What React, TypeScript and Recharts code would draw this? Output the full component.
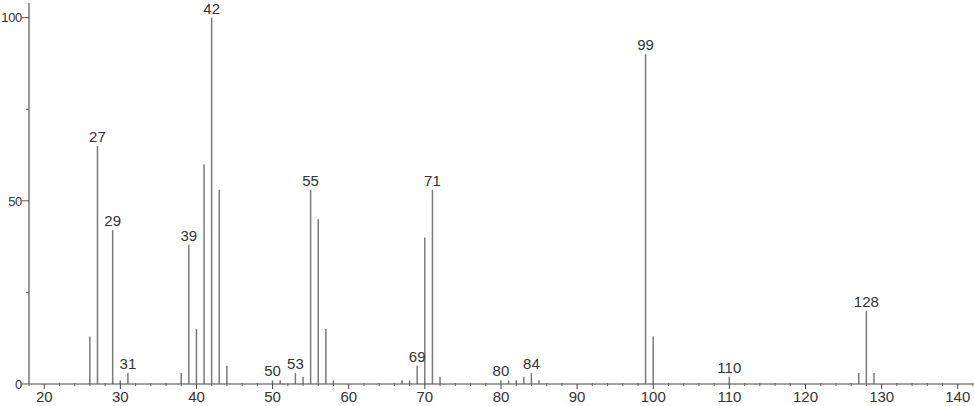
import React from 'react';
import { ComposedChart, Bar, XAxis, YAxis, LabelList } from 'recharts';

const mzValues = [26, 27, 29, 30, 31, 38, 39, 40, 41, 42, 43, 44, 50, 51, 53, 54, 55, 56, 57, 58, 67, 68, 69, 70, 71, 72, 80, 81, 82, 83, 84, 85, 99, 100, 110, 127, 128, 129];
const intensities = [13, 65, 42, 1, 3, 3, 38, 15, 60, 100, 53, 5, 1, 1, 3, 2, 53, 45, 15, 1, 1, 1, 5, 40, 53, 2, 1, 1, 1, 2, 3, 1, 90, 13, 2, 3, 20, 3];
const labeledPeaks = [27, 29, 31, 39, 42, 50, 53, 55, 69, 71, 80, 84, 99, 110, 128];

const majorXTicks = [20, 30, 40, 50, 60, 70, 80, 90, 100, 110, 120, 130, 140];
const minorXTicks = [18, 20, 22, 24, 26, 28, 30, 32, 34, 36, 38, 40, 42, 44, 46, 48, 50, 52, 54, 56, 58, 60, 62, 64, 66, 68, 70, 72, 74, 76, 78, 80, 82, 84, 86, 88, 90, 92, 94, 96, 98, 100, 102, 104, 106, 108, 110, 112, 114, 116, 118, 120, 122, 124, 126, 128, 130, 132, 134, 136, 138, 140, 142];
const yTicks = [0, 25, 50, 75, 100];
const yLabeledTicks = [0, 50, 100];

const data = mzValues.map((mz, i) => ({
  mz,
  intensity: intensities[i],
  label: labeledPeaks.includes(mz) ? String(mz) : '',
}));

const FONT = '"Liberation Sans", Arial, sans-serif';

const XTick = (props: any) => {
  const { x, y, payload } = props;
  const v = payload.value;
  const major = majorXTicks.includes(v);
  return (
    <g>
      {major ? (
        <line x1={x} x2={x} y1={y} y2={y + 5} stroke="#444" strokeWidth={1} />
      ) : (
        <line x1={x} x2={x} y1={y - 1} y2={y + 2} stroke="#666" strokeWidth={1} />
      )}
      {major && (
        <text x={x} y={y + 18} textAnchor="middle" fontSize={15} fontFamily={FONT} fill="#333">
          {v}
        </text>
      )}
    </g>
  );
};

const YTick = (props: any) => {
  const { x, y, payload } = props;
  const v = payload.value;
  const major = yLabeledTicks.includes(v);
  return (
    <g>
      <line x1={x - (major ? 7 : 3)} x2={x} y1={y} y2={y} stroke="#555" strokeWidth={1} />
      {major && (
        <text x={x - 7} y={y} dy="0.36em" textAnchor="end" fontSize={13} letterSpacing={-0.3} fontFamily={FONT} fill="#333">
          {v}
        </text>
      )}
    </g>
  );
};

export default function App() {
  return (
    <div style={{ position: 'absolute', left: 0, top: 0, background: '#fff' }}>
      <ComposedChart width={974} height={406} data={data} margin={{ top: 3, right: 1, left: 0, bottom: 0 }}>
        <XAxis
          dataKey="mz"
          type="number"
          domain={[18, 142]}
          ticks={minorXTicks}
          interval={0}
          allowDataOverflow
          height={22}
          axisLine={{ stroke: '#444', strokeWidth: 1 }}
          tickLine={false}
          tickSize={0}
          tickMargin={0}
          tick={<XTick />}
        />
        <YAxis
          type="number"
          domain={[0, 104]}
          ticks={yTicks}
          interval={0}
          allowDataOverflow
          width={29}
          axisLine={{ stroke: '#999', strokeWidth: 2 }}
          tickLine={false}
          tickSize={0}
          tickMargin={0}
          tick={<YTick />}
        />
        <Bar dataKey="intensity" fill="#7a7a7a" barSize={1.5} isAnimationActive={false}>
          <LabelList dataKey="label" position="top" offset={4} fontSize={15} fontFamily={FONT} fill="#333" />
        </Bar>
      </ComposedChart>
    </div>
  );
}
